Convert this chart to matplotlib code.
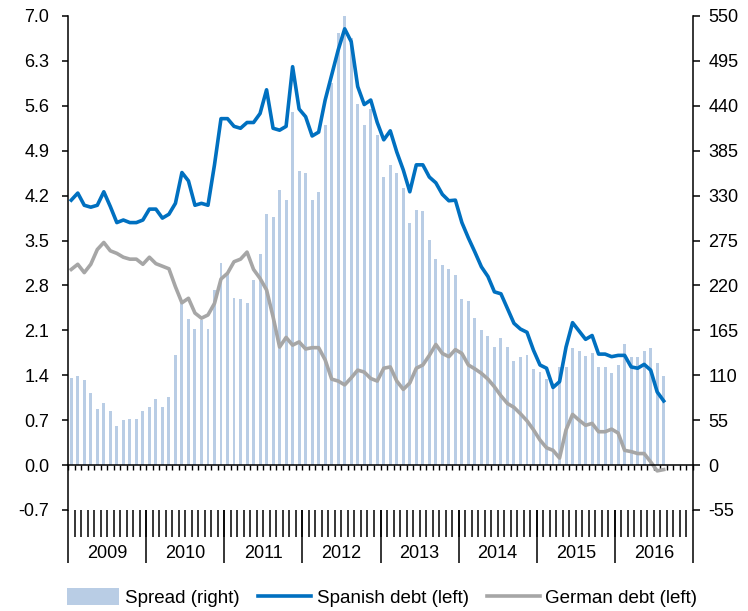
import numpy as np
import matplotlib.pyplot as plt
from matplotlib.ticker import FormatStrFormatter

# monthly series, Jan 2009 - Aug 2016
years = ['2009', '2010', '2011', '2012', '2013', '2014', '2015', '2016']

spread = [107, 109, 104, 88, 69, 76, 66, 48, 55, 57, 57, 66,
          71, 81, 71, 83, 135, 198, 179, 167, 178, 167, 214, 247,
          235, 205, 203, 198, 227, 259, 308, 304, 337, 325, 433, 360,
          358, 325, 334, 417, 468, 529, 550, 523, 442, 417, 436, 404,
          353, 368, 358, 339, 297, 313, 311, 276, 252, 245, 240, 233,
          203, 201, 180, 165, 158, 145, 156, 145, 127, 132, 135, 118,
          114, 105, 100, 120, 120, 144, 140, 133, 137, 120, 120, 113,
          123, 148, 132, 132, 140, 144, 125, 109]

spanish = [4.13, 4.24, 4.05, 4.02, 4.05, 4.26, 4.03, 3.78, 3.82, 3.78, 3.78, 3.82,
           3.99, 3.99, 3.85, 3.91, 4.08, 4.56, 4.43, 4.05, 4.08, 4.05, 4.68, 5.40,
           5.40, 5.28, 5.25, 5.34, 5.34, 5.48, 5.85, 5.25, 5.22, 5.28, 6.21, 5.55,
           5.43, 5.13, 5.19, 5.69, 6.08, 6.47, 6.80, 6.60, 5.90, 5.62, 5.69, 5.34,
           5.07, 5.21, 4.88, 4.60, 4.26, 4.68, 4.68, 4.49, 4.40, 4.22, 4.12, 4.13,
           3.78, 3.54, 3.32, 3.09, 2.94, 2.70, 2.67, 2.44, 2.21, 2.12, 2.07, 1.79,
           1.56, 1.51, 1.21, 1.30, 1.84, 2.22, 2.09, 1.96, 2.02, 1.73, 1.73, 1.69,
           1.71, 1.71, 1.53, 1.51, 1.57, 1.48, 1.14, 1.00]

german = [3.05, 3.13, 3.00, 3.13, 3.36, 3.47, 3.34, 3.30, 3.24, 3.21, 3.21, 3.13,
          3.24, 3.14, 3.10, 3.06, 2.78, 2.53, 2.60, 2.37, 2.29, 2.34, 2.52, 2.90,
          2.99, 3.17, 3.21, 3.32, 3.05, 2.91, 2.73, 2.31, 1.84, 1.99, 1.87, 1.92,
          1.81, 1.83, 1.83, 1.64, 1.34, 1.31, 1.25, 1.36, 1.48, 1.45, 1.35, 1.31,
          1.51, 1.53, 1.31, 1.18, 1.28, 1.51, 1.56, 1.71, 1.88, 1.74, 1.69, 1.80,
          1.74, 1.56, 1.50, 1.43, 1.34, 1.22, 1.08, 0.96, 0.90, 0.80, 0.69, 0.55,
          0.39, 0.27, 0.23, 0.11, 0.55, 0.79, 0.70, 0.62, 0.65, 0.52, 0.52, 0.56,
          0.50, 0.23, 0.21, 0.18, 0.18, 0.05, -0.09, -0.07]

plt.rcParams['font.family'] = ['Liberation Sans', 'DejaVu Sans']
plt.rcParams['font.size'] = 13
plt.rcParams['axes.unicode_minus'] = False

fig = plt.figure(figsize=(7.48, 6.11), dpi=100)
ax = fig.add_axes([68 / 748, 1 - 510 / 611, 625 / 748, 494 / 611])
ax2 = ax.twinx()
ax.set_zorder(ax2.get_zorder() + 1)
ax.patch.set_visible(False)

n_months = 12 * len(years)
x = np.arange(len(spread)) + 0.5

bars = ax2.bar(x, spread, width=0.45, color='#B9CDE5', label='Spread (right)')
l1, = ax.plot(x, spanish, color='#0070C0', lw=2.6, label='Spanish debt (left)')
l2, = ax.plot(x, german, color='#A6A6A6', lw=2.6, label='German debt (left)')

ax.set_xlim(0, n_months)
ax.set_ylim(-0.7, 7.0)
ax2.set_ylim(-55, 550)
ax.set_yticks(np.round(np.arange(-1, 11) * 0.7, 1))
ax.yaxis.set_major_formatter(FormatStrFormatter('%.1f'))
ax2.set_yticks(np.arange(-1, 11) * 55)

for s in ['top', 'right']:
    ax.spines[s].set_visible(False)
for s in ['top', 'bottom', 'left']:
    ax2.spines[s].set_visible(False)
ax.spines['bottom'].set_position(('data', 0))
for a in (ax, ax2):
    for s in a.spines.values():
        s.set_linewidth(1.1)

ax.tick_params(axis='y', length=4.5, width=1.1, pad=9)
ax2.tick_params(axis='y', length=5, width=1.1, pad=6)

# zero line with short month ticks
ax.set_xticks(np.arange(0, n_months + 1))
ax.tick_params(axis='x', length=3.5, width=1.0, labelbottom=False)

# month ticks under the plot
months_ax = ax.secondary_xaxis(0.0)
months_ax.spines['bottom'].set_visible(False)
months_ax.set_xticks(np.arange(1, n_months))
months_ax.tick_params(axis='x', length=19.5, width=1.1, labelbottom=False)

# year separators and labels
years_ax = ax.secondary_xaxis(0.0)
years_ax.spines['bottom'].set_visible(False)
years_ax.set_xticks(np.arange(0, n_months + 1, 12))
years_ax.set_xticks(np.arange(6, n_months, 12), labels=years, minor=True)
years_ax.tick_params(axis='x', which='major', length=38, width=1.1, labelbottom=False)
years_ax.tick_params(axis='x', which='minor', length=0, pad=25)

fig.legend(handles=[bars, l1, l2], loc='center left', bbox_to_anchor=(0.067, 0.022),
           ncol=3, frameon=False, fontsize=13.5, handlelength=2.8, handleheight=1.0,
           handletextpad=0.3, columnspacing=1.0)

fig.savefig('out.png', dpi=100)
